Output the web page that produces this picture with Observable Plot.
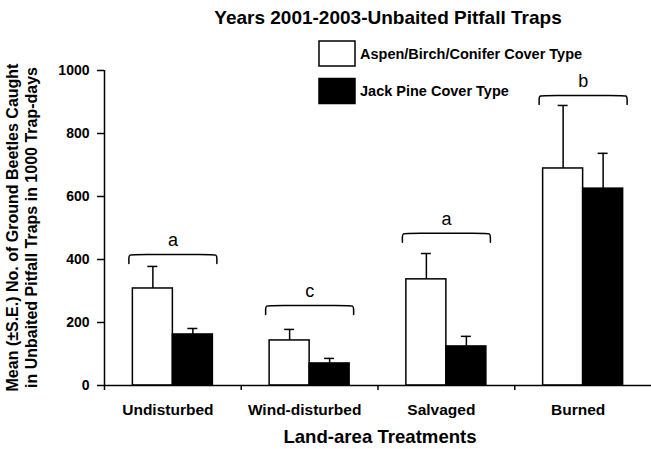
<!DOCTYPE html>
<html>
<head>
<meta charset="utf-8">
<script src="https://cdn.jsdelivr.net/npm/d3@7"></script>
<script src="https://cdn.jsdelivr.net/npm/@observablehq/plot@0.6"></script>
<style>
  html, body { margin: 0; padding: 0; background: #fff; }
</style>
</head>
<body>
<div id="chart"></div>
<script>
// Ground beetle captures per 1000 trap-days, unbaited pitfall traps, 2001-2003
const treatments = ["Undisturbed", "Wind-disturbed", "Salvaged", "Burned"];
const aspenMean = [308, 143, 337, 689];   // Aspen/Birch/Conifer cover type
const aspenSE   = [70, 35, 82, 200];
const jackMean  = [162, 70, 124, 625];    // Jack Pine cover type
const jackSE    = [19, 16, 32, 112];
const groupLetters = ["a", "c", "a", "b"]; // significance groups
const bracketLevel = [416, 254, 483, 921]; // height of each group bracket
const yTicks = [0, 200, 400, 600, 800, 1000];
const coverNames = ["Aspen/Birch/Conifer Cover Type", "Jack Pine Cover Type"];

const FONT = "'Liberation Sans', Arial, Helvetica, sans-serif";
const W = 651, H = 449;
const margin = {top: 70, right: 0, bottom: 64, left: 104};
const bandPx = (W - margin.left - margin.right) / treatments.length;
const yPerPx = 1000 / (H - margin.top - margin.bottom);
const barW = 40 / bandPx;      // bar width in band units
const capHalf = 5 / bandPx;    // half-width of error caps
const brHalf = 44 / bandPx;    // half-width of brackets
const brDrop = 9 * yPerPx;     // bracket end drop

const rows = treatments.flatMap((t, i) => [
  {treatment: t, cover: coverNames[0], mean: aspenMean[i], se: aspenSE[i], x1: i + 0.5 - barW, x2: i + 0.5},
  {treatment: t, cover: coverNames[1], mean: jackMean[i], se: jackSE[i], x1: i + 0.5, x2: i + 0.5 + barW}
]);
rows.forEach(d => { d.xc = (d.x1 + d.x2) / 2; d.top = d.mean + d.se; });

// bracket outlines: ends drop down, corners rounded by the basis curve
const bracketPts = bracketLevel.flatMap((y, i) => {
  const c = i + 0.5, l = c - brHalf, r = c + brHalf, k = 7 / bandPx;
  return [
    [l, y - brDrop], [l, y - brDrop * 0.4], [l, y], [l + k, y],
    [r - k, y], [r, y], [r, y - brDrop * 0.4], [r, y - brDrop]
  ].map(([x, yy]) => ({g: i, x, y: yy}));
});

const letters = groupLetters.map((s, i) => ({s, x: i + 0.5, y: bracketLevel[i]}));

const chart = Plot.plot({
  width: W,
  height: H,
  marginTop: margin.top,
  marginRight: margin.right,
  marginBottom: margin.bottom,
  marginLeft: margin.left,
  style: {fontFamily: FONT, fontSize: "14px", color: "black", background: "white"},
  x: {domain: [0, treatments.length], axis: null},
  y: {domain: [0, 1000], axis: null},
  marks: [
    Plot.axisY({ticks: yTicks, tickSize: 7, tickPadding: 8, tickFormat: d => String(d),
      fontSize: 14, fontWeight: "bold", label: null, strokeWidth: 1.5}),
    Plot.axisX({ticks: treatments.map((_, i) => i + 0.5), tickFormat: d => treatments[Math.floor(d)],
      tickSize: 0, tickPadding: 18, dx: -5, fontSize: 15.5, fontWeight: "bold", label: null}),
    Plot.axisX({ticks: [0, 1, 2, 3], tickSize: 5, tickFormat: () => "", label: null, strokeWidth: 1.5}),
    Plot.rectY(rows.filter(d => d.cover === coverNames[0]),
      {x1: "x1", x2: "x2", y: "mean", fill: "white", stroke: "black", strokeWidth: 1.5}),
    Plot.rectY(rows.filter(d => d.cover === coverNames[1]),
      {x1: "x1", x2: "x2", y: "mean", fill: "black", stroke: "black", strokeWidth: 1.5}),
    Plot.ruleX(rows, {x: "xc", y1: "mean", y2: "top", stroke: "black", strokeWidth: 1.5}),
    Plot.ruleY(rows, {y: "top", x1: d => d.xc - capHalf, x2: d => d.xc + capHalf, stroke: "black", strokeWidth: 1.5}),
    Plot.line(bracketPts, {x: "x", y: "y", z: "g", curve: "basis", stroke: "black", strokeWidth: 1.5}),
    Plot.text(letters, {x: "x", y: "y", text: "s", dy: -14, fontSize: 18, fill: "black"}),
    Plot.ruleX([0], {y1: 0, y2: 1000, stroke: "black", strokeWidth: 1.5}),
    Plot.ruleY([0], {stroke: "black", strokeWidth: 1.5})
  ]
});

document.getElementById("chart").appendChild(chart);

// title, axis titles and legend
const svg = d3.select(chart);
svg.append("text")
  .attr("x", 388).attr("y", 23.5)
  .attr("text-anchor", "middle")
  .style("font", `bold 19px ${FONT}`)
  .text("Years 2001-2003-Unbaited Pitfall Traps");

svg.append("text")
  .attr("x", 380).attr("y", 443)
  .attr("text-anchor", "middle")
  .style("font", `bold 18.6px ${FONT}`)
  .text("Land-area Treatments");

const yTitle = ["Mean (\u00B1S.E.) No. of Ground Beetles Caught", "in Unbaited Pitfall Traps in 1000 Trap-days"];
yTitle.forEach((line, k) => {
  svg.append("text")
    .attr("transform", `translate(${18 + 19 * k},${(margin.top + H - margin.bottom) / 2}) rotate(-90)`)
    .attr("text-anchor", "middle")
    .style("font", `bold 16px ${FONT}`)
    .text(line);
});

const legend = svg.append("g");
coverNames.forEach((name, k) => {
  const y0 = 41 + 37.5 * k;
  legend.append("rect")
    .attr("x", 319).attr("y", y0).attr("width", 36).attr("height", 25)
    .attr("fill", k === 0 ? "white" : "black")
    .attr("stroke", "black").attr("stroke-width", 1.5);
  legend.append("text")
    .attr("x", 360).attr("y", y0 + 12.5 + 5)
    .attr("text-anchor", "start")
    .style("font", `bold 14.5px ${FONT}`)
    .text(name);
});
</script>
</body>
</html>
